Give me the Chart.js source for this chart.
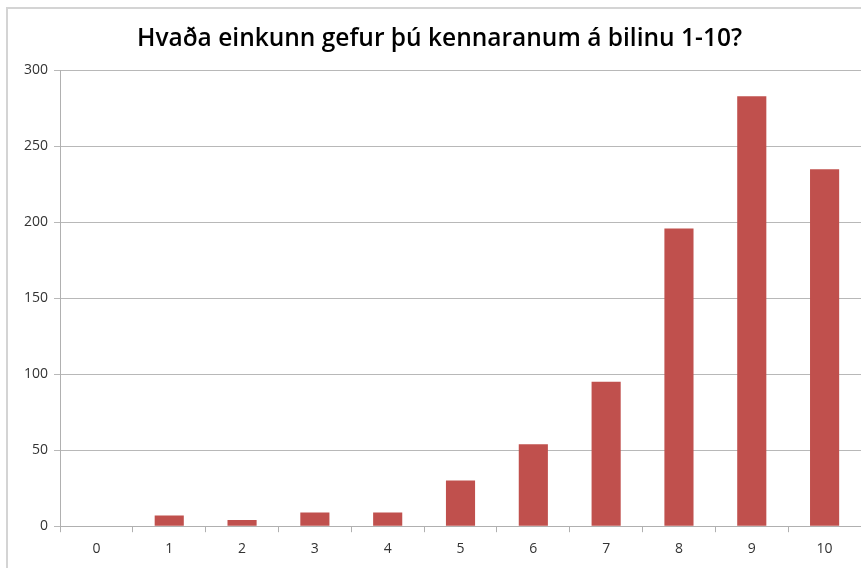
<!DOCTYPE html>
<html>
<head>
<meta charset="utf-8">
<script src="https://cdn.jsdelivr.net/npm/chart.js"></script>
<style>
  body { margin: 0; background: #fff; }
  #wrap { position: relative; width: 861px; height: 568px; overflow: hidden; }
  #frame { position: absolute; left: 6px; top: 7px; width: 900px; height: 600px; border: 2px solid #d4d4d4; }
  canvas { position: absolute; left: 0; top: 0; }
</style>
</head>
<body>
<div id="wrap">
  <div id="frame"></div>
  <canvas id="mainChart" width="861" height="568"></canvas>
</div>
<script>
const titleText = 'Hvaða einkunn gefur þú kennaranum á bilinu 1-10?';
const categories = ['0', '1', '2', '3', '4', '5', '6', '7', '8', '9', '10'];
const counts = [0, 7, 4, 9, 9, 30, 54, 95, 196, 283, 235];
const yMax = 300;
const yStep = 50;

document.addEventListener('DOMContentLoaded', function() {
    const ctx = document.getElementById('mainChart');
    new Chart(ctx, {
        type: 'bar',
        data: {
            labels: categories,
            datasets: [{
                data: counts,
                backgroundColor: '#C0504D',
                borderWidth: 0,
                barPercentage: 0.4,
                categoryPercentage: 1.0
            }]
        },
        options: {
            responsive: false,
            animation: false,
            layout: { padding: { left: 18, right: 0, top: 0, bottom: 3 } },
            plugins: {
                legend: { display: false },
                tooltip: { enabled: false },
                title: {
                    display: true,
                    text: titleText,
                    color: '#000',
                    font: { family: 'Open Sans', size: 24.5, weight: '600' },
                    padding: { top: 24, bottom: 17 }
                }
            },
            scales: {
                x: {
                    grid: {
                        drawOnChartArea: false,
                        drawTicks: true,
                        tickLength: 6,
                        color: '#b0b0b0'
                    },
                    border: { color: '#b0b0b0' },
                    ticks: {
                        color: '#333',
                        padding: 8,
                        font: { family: 'Open Sans', size: 14 }
                    }
                },
                y: {
                    min: 0,
                    max: yMax,
                    ticks: {
                        stepSize: yStep,
                        color: '#333',
                        padding: 6,
                        font: { family: 'Open Sans', size: 14 }
                    },
                    grid: {
                        color: '#b8b8b8',
                        tickLength: 6
                    },
                    border: { color: '#b0b0b0' }
                }
            }
        }
    });
});
</script>
</body>
</html>
